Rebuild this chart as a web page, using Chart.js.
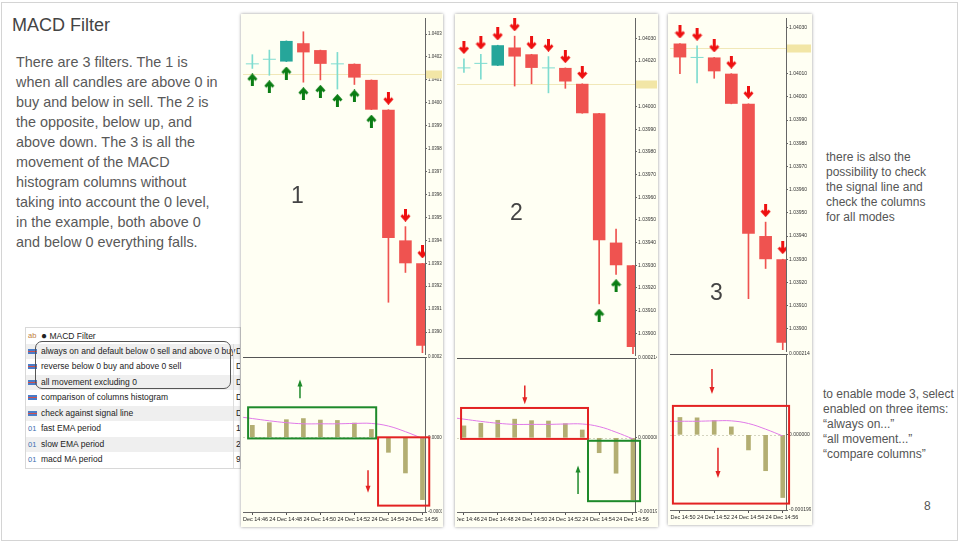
<!DOCTYPE html>
<html lang="en">
<head>
<meta charset="UTF-8">
<title>MACD Filter</title>
<script src="https://cdn.jsdelivr.net/npm/chart.js"></script>
<style>
  body { margin: 0; width: 960px; height: 543px; background: #fff; position: relative; overflow: hidden; font-family: "Liberation Sans", Arial, sans-serif; }
  .frame { position: absolute; left: 1px; top: 2px; width: 955px; height: 537px; border: 1px solid #d4d4d4; }
  .title { position: absolute; left: 12px; top: 14px; font-size: 18px; line-height: 22px; color: #444; }
  .intro { position: absolute; left: 16px; top: 52px; font-size: 14.4px; line-height: 20px; color: #595959; white-space: nowrap; }
  .note { position: absolute; font-size: 12px; line-height: 15px; color: #555; white-space: nowrap; }
  .page { position: absolute; left: 924px; top: 499px; font-size: 12px; color: #555; }
  .panel { position: absolute; background: #fffff3; box-shadow: 0 0 3px rgba(0,0,0,0.4); }
  canvas { position: absolute; }
  .num { position: absolute; font-size: 23px; line-height: 23px; color: #444; }
  .params { position: absolute; left: 25px; top: 327px; width: 214px; height: 140px; border: 1px solid #d8d8d8; background: #fff; font-size: 8.5px; color: #222; overflow: hidden; }
  .prow { position: absolute; left: 0; width: 214px; height: 15.5px; line-height: 15.5px; white-space: nowrap; overflow: hidden; }
  .prow.g { background: #efefef; }
  .prow .nm { position: absolute; left: 15px; }
  .prow .vl { position: absolute; left: 207px; border-left: 1px solid #ddd; padding-left: 2px; height: 15.5px; }
  .ic { position: absolute; left: 2px; top: 5px; width: 9px; height: 1px; background: #d05050; border-top: 2px solid #4a7cc8; border-bottom: 2px solid #4a7cc8; }
  .ic01 { position: absolute; left: 2px; color: #3a6fb0; font-size: 7.5px; }
  .dot { font-size: 10px; }
  .roundbox { position: absolute; left: 35px; top: 341px; width: 194px; height: 46px; border: 1px solid #555; border-radius: 7px; }
</style>
</head>
<body>
<div class="frame"></div>
<div class="title">MACD Filter</div>
<div class="intro">There are 3 filters. The 1 is<br>when all candles are above 0 in<br>buy and below in sell. The 2 is<br>the opposite, below up, and<br>above down. The 3 is all the<br>movement of the MACD<br>histogram columns without<br>taking into account the 0 level,<br>in the example, both above 0<br>and below 0 everything falls.</div>

<div class="params">
  <div class="prow" style="top:0"><span class="ic01" style="color:#c08040">ab</span><span class="nm"><span class="dot">●</span> MACD Filter</span></div>
  <div class="prow g" style="top:15.5px"><span class="ic"></span><span class="nm">always on and default below 0 sell and above 0 buy</span><span class="vl">Di</span></div>
  <div class="prow" style="top:31px"><span class="ic"></span><span class="nm">reverse below 0 buy and above 0 sell</span><span class="vl">Di</span></div>
  <div class="prow g" style="top:46.5px"><span class="ic"></span><span class="nm">all movement excluding 0</span><span class="vl">Di</span></div>
  <div class="prow" style="top:62px"><span class="ic"></span><span class="nm">comparison of columns histogram</span><span class="vl">Di</span></div>
  <div class="prow g" style="top:77.5px"><span class="ic"></span><span class="nm">check against signal line</span><span class="vl">Di</span></div>
  <div class="prow" style="top:93px"><span class="ic01">01</span><span class="nm">fast EMA period</span><span class="vl">12</span></div>
  <div class="prow g" style="top:108.5px"><span class="ic01">01</span><span class="nm">slow EMA period</span><span class="vl">26</span></div>
  <div class="prow" style="top:124px"><span class="ic01">01</span><span class="nm">macd MA period</span><span class="vl">9</span></div>
</div>
<div class="roundbox"></div>

<div class="panel" style="left:241px; top:14px; width:202px; height:513px;"></div>
<div class="panel" style="left:455px; top:14px; width:203px; height:513px;"></div>
<div class="panel" style="left:668px; top:14px; width:144px; height:511px;"></div>

<canvas id="price1" width="199" height="337" style="left:243px; top:18px;"></canvas>
<canvas id="macd1" width="199" height="172" style="left:243px; top:354px;"></canvas>
<canvas id="price2" width="200" height="338" style="left:457px; top:18px;"></canvas>
<canvas id="macd2" width="200" height="171" style="left:457px; top:355px;"></canvas>
<canvas id="price3" width="141" height="334" style="left:670px; top:18px;"></canvas>
<canvas id="macd3" width="141" height="173" style="left:670px; top:351px;"></canvas>

<div class="num" style="left:291px; top:184px;">1</div>
<div class="num" style="left:510px; top:201px;">2</div>
<div class="num" style="left:710px; top:281px;">3</div>

<div class="note" style="left:826px; top:150px;">there is also the<br>possibility to check<br>the signal line and<br>check the columns<br>for all modes</div>
<div class="note" style="left:823px; top:387px;">to enable mode 3, select<br>enabled on three items:<br>“always on...”<br>“all movement...”<br>“compare columns”</div>
<div class="page">8</div>

<script>
    // candles, 24 Dec, one per minute
    const times = ['14:46', '14:47', '14:48', '14:49', '14:50', '14:51', '14:52', '14:53', '14:54', '14:55', '14:56', '14:57'];
    const opens = [null, 1.04017, 1.04019, 1.04018, 1.04026, 1.04023, 1.04017, 1.04017, 1.04010, 1.03997, 1.03940, 1.03930];
    const highs = [null, 1.04021, 1.04023, 1.04027, 1.04031, 1.04023, 1.04022, 1.04017, 1.04010, 1.03997, 1.03946, 1.03930];
    const lows = [null, 1.04015, 1.04012, 1.04018, 1.04009, 1.04010, 1.04006, 1.04008, 1.03997, 1.03913, 1.03926, 1.03891];
    const closes = [null, 1.04017, 1.04019, 1.04027, 1.04022, 1.04017, 1.04017, 1.04011, 1.03997, 1.03941, 1.03930, 1.03894];

    // MACD histogram + signal line
    const macdHist = [null, 0.000032, 0.000039, 0.000047, 0.000050, 0.000046, 0.000045, 0.000038, 0.000021, -0.000040, -0.000095, -0.000166];
    const macdSignal = [0.000056, 0.000050, 0.000044, 0.000039, 0.000036, 0.000036, 0.000036, 0.000037, 0.000037, 0.000030, 0.000015, -0.000003];

    // arrows for each filter mode
    const signals1 = [null, 'buy', 'buy', 'buy', 'buy', 'buy', 'buy', 'buy', 'buy', 'sell', 'sell', 'sell'];
    const signals2 = [null, 'sell', 'sell', 'sell', 'sell', 'sell', 'sell', 'sell', 'sell', 'buy', 'buy', null];
    const signals3 = [null, null, null, null, null, 'sell', 'sell', 'sell', 'sell', 'sell', 'sell', 'sell'];

    // tick labels
    const priceTicks = [1.03900, 1.03910, 1.03920, 1.03930, 1.03940, 1.03950, 1.03960, 1.03970, 1.03980, 1.03990, 1.04000, 1.04010, 1.04020, 1.04030];
    const macdTicks = [-0.000199, 0, 0.000214];
    const timeTickIdx = [0, 2, 4, 6, 8, 10];

    const bullColor = '#26a69a';
    const bearColor = '#ef5350';
    const dojiColor = '#7fdcd0';

    function arrowImage(color, up) {
        const c = document.createElement('canvas');
        c.width = 11; c.height = 13;
        const g = c.getContext('2d');
        g.fillStyle = color; g.strokeStyle = color;
        if (!up) { g.translate(0, 13); g.scale(1, -1); }
        g.fillRect(4, 4, 3, 9);
        g.lineWidth = 2.8;
        g.beginPath(); g.moveTo(1.5, 6.5); g.lineTo(5.5, 2); g.lineTo(9.5, 6.5); g.stroke();
        return c;
    }
    const upArrow = arrowImage('#0b7d14', true);
    const downArrow = arrowImage('#ee1111', false);

    function candleColor(i) {
        if (closes[i] > opens[i]) return bullColor;
        if (closes[i] < opens[i]) return bearColor;
        return dojiColor;
    }

    const markPlugin = {
        id: 'mark',
        beforeDatasetsDraw(chart, args, opts) {
            const ctx = chart.ctx, a = chart.chartArea;
            const py = Math.round(chart.scales.y.getPixelForValue(opts.price)) + 0.5;
            ctx.save();
            ctx.strokeStyle = '#f1e8b8';
            ctx.lineWidth = 1;
            ctx.beginPath(); ctx.moveTo(a.left, py); ctx.lineTo(a.right, py); ctx.stroke();
            ctx.fillStyle = '#f2e6a6';
            ctx.fillRect(a.right + 1, py - 4, chart.width - a.right - 1, 8);
            ctx.restore();
        }
    };

    const macdPlugin = {
        id: 'macdExtras',
        beforeDatasetsDraw(chart) {
            const ctx = chart.ctx, a = chart.chartArea;
            const zy = Math.round(chart.scales.y.getPixelForValue(0)) + 0.5;
            ctx.save();
            ctx.strokeStyle = '#d4d4c0';
            ctx.setLineDash([2, 2]);
            ctx.beginPath(); ctx.moveTo(a.left, zy); ctx.lineTo(a.right, zy); ctx.stroke();
            ctx.restore();
        },
        afterDraw(chart, args, opts) {
            const ctx = chart.ctx, a = chart.chartArea;
            const x = chart.scales.x, y = chart.scales.y;
            ctx.save();
            ctx.strokeStyle = '#555';
            ctx.lineWidth = 1;
            ctx.beginPath(); ctx.moveTo(0, a.top + 0.5); ctx.lineTo(a.right, a.top + 0.5); ctx.stroke();
            ctx.lineWidth = 2;
            opts.boxes.forEach(b => {
                const x0 = x.getPixelForValue(b.x0), x1 = x.getPixelForValue(b.x1);
                const y0 = y.getPixelForValue(b.y0), y1 = y.getPixelForValue(b.y1);
                ctx.strokeStyle = b.color;
                ctx.strokeRect(x0, y0, x1 - x0, y1 - y0);
            });
            opts.arrows.forEach(r => {
                const px = x.getPixelForValue(r.x);
                const y0 = y.getPixelForValue(r.from), y1 = y.getPixelForValue(r.to);
                const dir = y1 > y0 ? 1 : -1;
                ctx.strokeStyle = r.color; ctx.fillStyle = r.color;
                ctx.lineWidth = 1.5;
                ctx.beginPath(); ctx.moveTo(px, y0); ctx.lineTo(px, y1 - dir * 5); ctx.stroke();
                ctx.beginPath(); ctx.moveTo(px - 2.5, y1 - dir * 7); ctx.lineTo(px + 2.5, y1 - dir * 7); ctx.lineTo(px, y1); ctx.closePath(); ctx.fill();
            });
            ctx.restore();
        }
    };

    function priceChart(id, p) {
        const idx = times.map((t, i) => i).filter(i => opens[i] !== null);
        const bodyIdx = idx.filter(i => opens[i] !== closes[i]);
        const dojiIdx = idx.filter(i => opens[i] === closes[i]);
        const buyIdx = idx.filter(i => p.signals[i] === 'buy');
        const sellIdx = idx.filter(i => p.signals[i] === 'sell');

        new Chart(document.getElementById(id), {
            type: 'bar',
            data: {
                datasets: [{
                    type: 'line', showLine: false, order: 0,
                    data: buyIdx.map(i => ({ x: i, y: lows[i] - 0.00005 })),
                    pointStyle: upArrow
                }, {
                    type: 'line', showLine: false, order: 0,
                    data: sellIdx.map(i => ({ x: i, y: highs[i] + 0.00005 })),
                    pointStyle: downArrow
                }, {
                    type: 'line', showLine: false, order: 1,
                    data: dojiIdx.map(i => ({ x: i, y: opens[i] })),
                    pointStyle: 'line', pointRadius: 6.5, pointBorderWidth: 1, pointBorderColor: dojiColor
                }, {
                    order: 2, grouped: false,
                    data: bodyIdx.map(i => ({ x: i, y: [opens[i], closes[i]] })),
                    backgroundColor: bodyIdx.map(candleColor),
                    categoryPercentage: 1, barPercentage: 0.74
                }, {
                    order: 3, grouped: false,
                    data: idx.map(i => ({ x: i, y: [lows[i], highs[i]] })),
                    backgroundColor: idx.map(candleColor),
                    barThickness: 1
                }]
            },
            options: {
                responsive: false, animation: false,
                layout: { padding: 0, autoPadding: false },
                plugins: { legend: { display: false }, tooltip: { enabled: false }, mark: { price: p.mark } },
                scales: {
                    x: { type: 'linear', display: false, min: p.xMin, max: p.xMax, offset: false },
                    y: {
                        position: 'right', min: p.yMin, max: p.yMax,
                        afterBuildTicks: s => { s.ticks = priceTicks.filter(v => v >= p.yMin && v <= p.yMax).map(v => ({ value: v })); },
                        afterFit: s => { s.width = p.axisW; s.paddingTop = 0; s.paddingBottom = 0; },
                        border: { display: true, color: '#666' },
                        grid: { drawOnChartArea: false, tickLength: 2, color: '#666' },
                        ticks: { autoSkip: false, padding: 1, color: '#333', font: { size: p.font, family: 'Liberation Sans' }, callback: v => v.toFixed(5) }
                    }
                }
            },
            plugins: [markPlugin]
        });
    }

    function macdChart(id, p) {
        const idx = times.map((t, i) => i);
        const histIdx = idx.filter(i => macdHist[i] !== null);
        new Chart(document.getElementById(id), {
            type: 'bar',
            data: {
                datasets: [{
                    type: 'line', order: 0,
                    data: idx.map(i => ({ x: i, y: macdSignal[i] })),
                    borderColor: '#e07ae8', borderWidth: 1, pointRadius: 0, tension: 0.4
                }, {
                    order: 1,
                    data: histIdx.map(i => ({ x: i, y: macdHist[i] })),
                    backgroundColor: '#b3ae72', barThickness: 4
                }]
            },
            options: {
                responsive: false, animation: false,
                layout: { padding: { top: 3 }, autoPadding: false },
                plugins: { legend: { display: false }, tooltip: { enabled: false }, macdExtras: { boxes: p.boxes, arrows: p.arrows } },
                scales: {
                    x: {
                        type: 'linear', min: p.xMin, max: p.xMax, offset: false,
                        afterBuildTicks: s => { s.ticks = timeTickIdx.filter(v => v >= p.xMin - 1.7).map(v => ({ value: v })); },
                        afterFit: s => { s.height = 14; s.paddingLeft = 0; s.paddingRight = 0; },
                        border: { display: true, color: '#666' },
                        grid: { drawOnChartArea: false, tickLength: 3, color: '#555' },
                        ticks: { align: 'start', maxRotation: 0, autoSkip: false, padding: 1, color: '#222', font: { size: 5.5, family: 'Liberation Sans' }, callback: v => '24 Dec ' + times[v] }
                    },
                    y: {
                        position: 'right', min: macdTicks[0], max: macdTicks[2],
                        afterBuildTicks: s => { s.ticks = macdTicks.map(v => ({ value: v })); },
                        afterFit: s => { s.width = p.axisW; s.paddingTop = 0; s.paddingBottom = 0; },
                        border: { display: true, color: '#666' },
                        grid: { drawOnChartArea: false, tickLength: 2, color: '#666' },
                        ticks: { autoSkip: false, padding: 1, color: '#333', font: { size: p.font, family: 'Liberation Sans' }, callback: v => v.toFixed(6) }
                    }
                }
            },
            plugins: [macdPlugin]
        });
    }

    const green = '#1e8a2a';
    const red = '#e32222';

    priceChart('price1', { xMin: 0.45, xMax: 11.15, yMin: 1.0389, yMax: 1.04037, axisW: 17, font: 4.5, mark: 1.040125, signals: signals1 });
    priceChart('price2', { xMin: 0.59, xMax: 11.12, yMin: 1.0389, yMax: 1.04039, axisW: 22, font: 5, mark: 1.04010, signals: signals2 });
    priceChart('price3', { xMin: 4.42, xMax: 11.19, yMin: 1.0389, yMax: 1.04034, axisW: 25, font: 5, mark: 1.04021, signals: signals3 });

    macdChart('macd1', {
        xMin: 0.45, xMax: 11.15, axisW: 17, font: 4.5,
        boxes: [{ x0: 0.75, x1: 8.28, y0: 0.00008, y1: -0.000003, color: green }, { x0: 8.39, x1: 11.4, y0: 0, y1: -0.000182, color: red }],
        arrows: [{ x: 3.8, from: 0.000104, to: 0.000154, color: green }, { x: 7.8, from: -0.000088, to: -0.000148, color: red }]
    });
    macdChart('macd2', {
        xMin: 0.59, xMax: 11.12, axisW: 22, font: 5,
        boxes: [{ x0: 0.83, x1: 8.34, y0: 0.00008, y1: -0.000003, color: red }, { x0: 8.34, x1: 11.42, y0: -0.000008, y1: -0.00017, color: green }],
        arrows: [{ x: 4.6, from: 0.00014, to: 0.00009, color: red }, { x: 7.75, from: -0.000151, to: -0.000074, color: green }]
    });
    macdChart('macd3', {
        xMin: 4.42, xMax: 11.19, axisW: 25, font: 5,
        boxes: [{ x0: 4.59, x1: 11.37, y0: 0.0000766, y1: -0.000182, color: red }],
        arrows: [{ x: 6.87, from: 0.000174, to: 0.000108, color: red }, { x: 7.22, from: -0.000034, to: -0.000114, color: red }]
    });
</script>
</body>
</html>
